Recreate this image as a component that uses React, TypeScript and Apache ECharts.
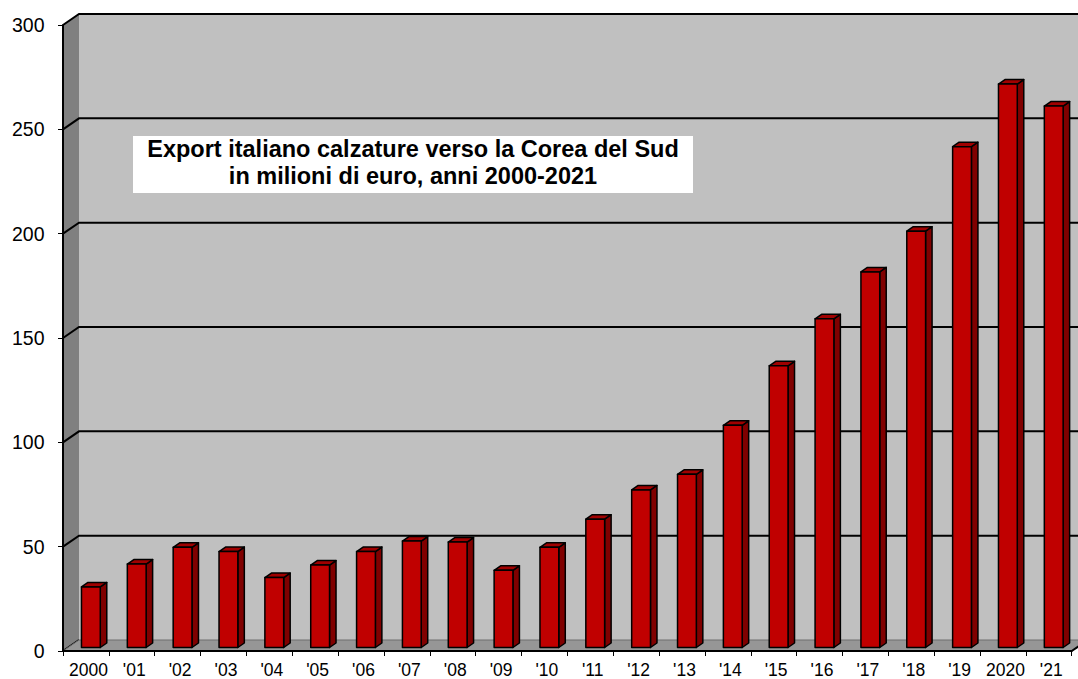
import React, { useEffect, useRef } from "react";
import * as echarts from "echarts";

const categories = ["2000", "'01", "'02", "'03", "'04", "'05", "'06", "'07", "'08", "'09", "'10", "'11", "'12", "'13", "'14", "'15", "'16", "'17", "'18", "'19", "2020", "'21"];
const exportValues = [29, 40, 48, 46, 33.5, 39.5, 46, 51, 50.5, 37, 48, 61.5, 75.5, 83, 106.5, 135, 157.5, 180, 199.5, 240, 270, 259.5];
const yMin = 0;
const yMax = 300;
const yInterval = 50;
const gridValues = [0, 50, 100, 150, 200, 250, 300];
const titleLines = ["Export italiano calzature verso la Corea del Sud", "in milioni di euro, anni 2000-2021"];

const FONT = "'Liberation Sans', Arial, sans-serif";
const DEPTH_X = 16;
const DEPTH_Y = 11;

export default function App() {
  const ref = useRef<HTMLDivElement>(null);
  useEffect(() => {
    document.body.style.margin = "0";
    const chart = echarts.init(ref.current!, null, { renderer: "svg" });
    const n = categories.length;

    const wallsRender = (params: any, api: any) => {
      const band = api.size([1, 0])[0];
      const left = api.coord([0, 0])[0] - band / 2;
      const right = api.coord([n - 1, 0])[0] + band / 2;
      const y0 = api.coord([0, yMin])[1];
      const yT = api.coord([0, yMax])[1];
      const farRight = right + DEPTH_X + 40;
      const children: any[] = [];
      children.push({
        type: "polygon",
        shape: { points: [[left + DEPTH_X, yT - DEPTH_Y], [farRight, yT - DEPTH_Y], [farRight, y0 - DEPTH_Y], [left + DEPTH_X, y0 - DEPTH_Y]] },
        style: { fill: "#c0c0c0" },
      });
      children.push({
        type: "polygon",
        shape: { points: [[left, yT], [left + DEPTH_X, yT - DEPTH_Y], [left + DEPTH_X, y0 - DEPTH_Y], [left, y0]] },
        style: { fill: "#808080" },
      });
      gridValues.forEach((gv) => {
        const y = api.coord([0, gv])[1];
        if (gv === 0) {
          children.push({
            type: "line",
            shape: { x1: left, y1: y, x2: left + DEPTH_X, y2: y - DEPTH_Y },
            style: { stroke: "#000", lineWidth: 2 },
          });
        } else {
          children.push({
            type: "polyline",
            shape: { points: [[left, y], [left + DEPTH_X, y - DEPTH_Y], [farRight, y - DEPTH_Y]] },
            style: { stroke: "#000", lineWidth: 2, fill: "none" },
          });
        }
      });
      children.push({
        type: "polygon",
        shape: { points: [[left, y0], [left + DEPTH_X, y0 - DEPTH_Y], [right + DEPTH_X, y0 - DEPTH_Y], [right, y0]] },
        style: { fill: "#969696", stroke: "#6e6e6e", lineWidth: 1 },
      });
      children.push({
        type: "line",
        shape: { x1: right, y1: y0, x2: right + DEPTH_X, y2: y0 - DEPTH_Y },
        style: { stroke: "#000", lineWidth: 2 },
      });
      return { type: "group", children };
    };

    const barsRender = (params: any, api: any) => {
      const i = api.value(0);
      const v = api.value(1);
      const band = api.size([1, 0])[0];
      const base = api.coord([i, 0]);
      const top = api.coord([i, v]);
      const catStart = base[0] - band / 2;
      const x0 = catStart + band * 0.403;
      const x1 = x0 + band * 0.41;
      const yb = base[1] - 3.5;
      const yt = top[1] - 3.5;
      const sdx = 6.5;
      const sdy = 4.5;
      const stroke = { stroke: "#000", lineWidth: 1.5, lineJoin: "round" };
      return {
        type: "group",
        children: [
          {
            type: "polygon",
            shape: { points: [[x1, yt], [x1 + sdx, yt - sdy], [x1 + sdx, yb - sdy], [x1, yb]] },
            style: { fill: "#800000", ...stroke },
          },
          {
            type: "polygon",
            shape: { points: [[x0, yt], [x0 + sdx, yt - sdy], [x1 + sdx, yt - sdy], [x1, yt]] },
            style: { fill: "#a00000", ...stroke },
          },
          {
            type: "polygon",
            shape: { points: [[x0, yt], [x1, yt], [x1, yb], [x0, yb]] },
            style: { fill: "#c00000", ...stroke },
          },
        ],
      };
    };

    chart.setOption({
      animation: false,
      backgroundColor: "#ffffff",
      grid: { left: 63, right: 6.3, top: 25, bottom: 28, containLabel: false },
      xAxis: {
        type: "category",
        data: categories,
        boundaryGap: true,
        z: 5,
        axisLine: { show: true, lineStyle: { color: "#000", width: 2 } },
        axisTick: { show: true, interval: 0, length: 5, lineStyle: { color: "#000", width: 1 } },
        axisLabel: { interval: 0, margin: 10, fontSize: 17.5, color: "#000", fontFamily: FONT, padding: [0, 0, 0, 5] },
        splitLine: { show: false },
      },
      yAxis: {
        type: "value",
        min: yMin,
        max: yMax,
        interval: yInterval,
        z: 5,
        axisLine: { show: true, lineStyle: { color: "#000", width: 2 } },
        axisTick: { show: true, length: 5, lineStyle: { color: "#000", width: 1 } },
        axisLabel: { margin: 18.5, fontSize: 19.5, color: "#000", fontFamily: FONT },
        splitLine: { show: false },
      },
      graphic: [
        {
          type: "rect",
          z: 100,
          shape: { x: 133, y: 136, width: 560, height: 57 },
          style: { fill: "#ffffff" },
        },
        {
          type: "text",
          z: 101,
          x: 413,
          y: 149,
          style: { text: titleLines[0], fontSize: 23.5, fontWeight: "bold", fontFamily: FONT, fill: "#000", align: "center", verticalAlign: "middle" },
        },
        {
          type: "text",
          z: 101,
          x: 413,
          y: 176,
          style: { text: titleLines[1], fontSize: 23.5, fontWeight: "bold", fontFamily: FONT, fill: "#000", align: "center", verticalAlign: "middle" },
        },
      ],
      series: [
        {
          type: "custom",
          z: 1,
          silent: true,
          renderItem: wallsRender,
          data: [[0, 0]],
          encode: { x: 0, y: 1 },
        },
        {
          type: "custom",
          z: 2,
          silent: true,
          renderItem: barsRender,
          data: exportValues.map((v, i) => [i, v]),
          encode: { x: 0, y: 1 },
        },
      ],
    });
    return () => chart.dispose();
  }, []);
  return <div ref={ref} style={{ position: "fixed", left: 0, top: 0, width: 1078, height: 679 }} />;
}
